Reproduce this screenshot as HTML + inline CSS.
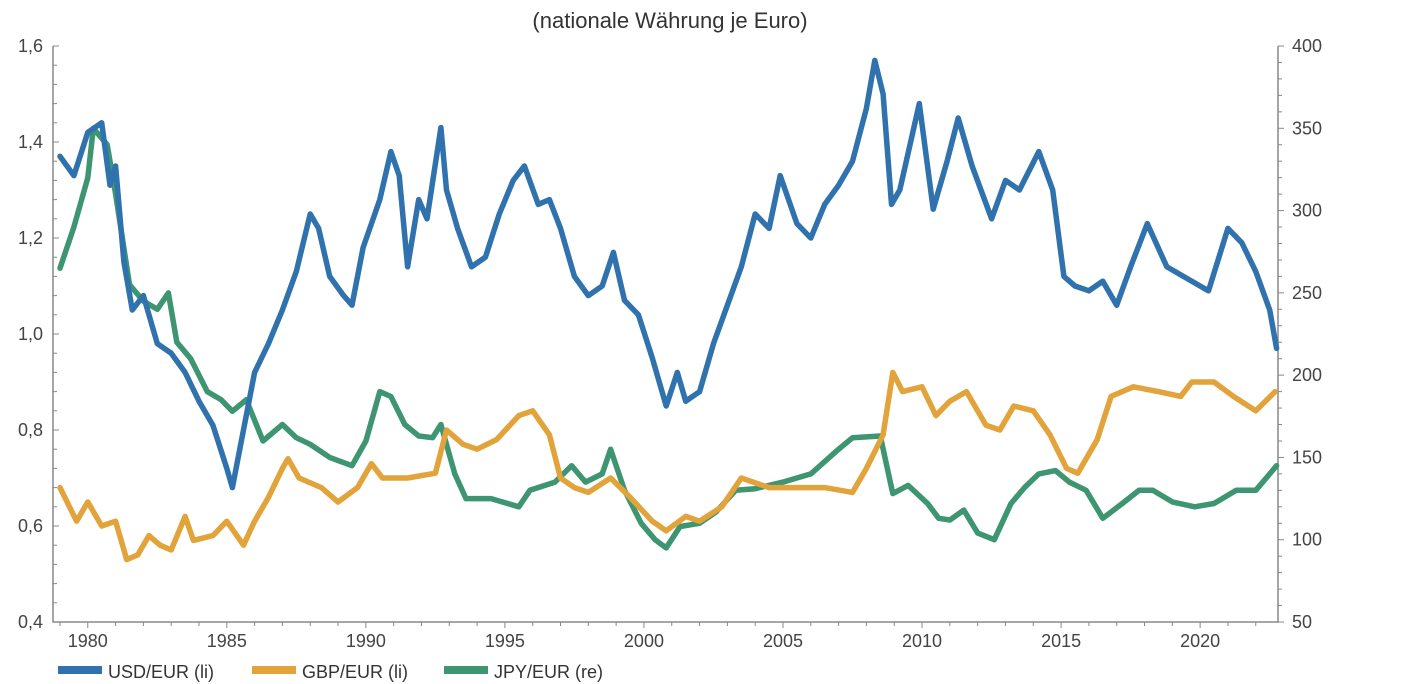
<!DOCTYPE html>
<html><head><meta charset="utf-8"><style>
body{margin:0;background:#fff;}
svg{display:block;font-family:"Liberation Sans",sans-serif;}
</style></head><body>
<svg id="chart" width="1416" height="684" viewBox="0 0 1416 684">
<text x="670" y="28" font-size="22" fill="#333" text-anchor="middle">(nationale Währung je Euro)</text>
<g id="axes"></g><g id="series"></g>
<g font-size="18" fill="#333">
<g><rect x="58" y="666" width="44" height="8" fill="#2f72ad"/><text x="108" y="678">USD/EUR (li)</text></g>
<g><rect x="252" y="666" width="44" height="8" fill="#e1a33a"/><text x="302" y="678">GBP/EUR (li)</text></g>
<g><rect x="444" y="666" width="44" height="8" fill="#3e9572"/><text x="494" y="678">JPY/EUR (re)</text></g>
</g>
</svg>
<script>
const usdYears=[1979,1979.5,1980,1980.5,1980.8,1981,1981.3,1981.6,1982,1982.5,1983,1983.5,1984,1984.5,1985,1985.2,1985.5,1986,1986.5,1987,1987.5,1988,1988.3,1988.7,1989.2,1989.5,1989.9,1990.5,1990.9,1991.2,1991.5,1991.9,1992.2,1992.7,1992.9,1993.3,1993.8,1994.3,1994.8,1995.3,1995.7,1996.2,1996.6,1997,1997.5,1998,1998.5,1998.9,1999.3,1999.8,2000.3,2000.8,2001.2,2001.5,2002,2002.5,2003,2003.5,2004,2004.5,2004.9,2005.5,2006,2006.5,2007,2007.5,2008,2008.3,2008.6,2008.9,2009.2,2009.9,2010.4,2010.9,2011.3,2011.8,2012.5,2013,2013.5,2014.2,2014.7,2015.1,2015.5,2016,2016.5,2017,2017.5,2018.1,2018.8,2019.4,2020,2020.3,2021,2021.5,2022,2022.5,2022.75];
const usdValues=[1.37,1.33,1.42,1.44,1.31,1.35,1.15,1.05,1.08,0.98,0.96,0.92,0.86,0.81,0.72,0.68,0.77,0.92,0.98,1.05,1.13,1.25,1.22,1.12,1.08,1.06,1.18,1.28,1.38,1.33,1.14,1.28,1.24,1.43,1.30,1.22,1.14,1.16,1.25,1.32,1.35,1.27,1.28,1.22,1.12,1.08,1.10,1.17,1.07,1.04,0.95,0.85,0.92,0.86,0.88,0.98,1.06,1.14,1.25,1.22,1.33,1.23,1.20,1.27,1.31,1.36,1.47,1.57,1.50,1.27,1.30,1.48,1.26,1.36,1.45,1.35,1.24,1.32,1.30,1.38,1.30,1.12,1.10,1.09,1.11,1.06,1.14,1.23,1.14,1.12,1.10,1.09,1.22,1.19,1.13,1.05,0.97];
const gbpYears=[1979,1979.6,1980,1980.5,1981,1981.4,1981.8,1982.2,1982.6,1983,1983.5,1983.8,1984.5,1985,1985.6,1986,1986.5,1987,1987.2,1987.6,1988.4,1989,1989.7,1990.2,1990.6,1991.5,1992.5,1992.9,1993.5,1994,1994.7,1995.5,1996,1996.6,1997,1997.5,1998,1998.8,1999.5,2000.3,2000.8,2001.5,2002,2002.8,2003.5,2004.5,2005.5,2006.5,2007.5,2008,2008.6,2008.95,2009.3,2010,2010.5,2011,2011.6,2012.3,2012.8,2013.3,2014,2014.6,2015.2,2015.6,2016.3,2016.8,2017.6,2018.5,2019.3,2019.7,2020.5,2021.2,2022,2022.7];
const gbpValues=[0.68,0.61,0.65,0.60,0.61,0.53,0.54,0.58,0.56,0.55,0.62,0.57,0.58,0.61,0.56,0.61,0.66,0.72,0.74,0.70,0.68,0.65,0.68,0.73,0.70,0.70,0.71,0.80,0.77,0.76,0.78,0.83,0.84,0.79,0.70,0.68,0.67,0.70,0.66,0.61,0.59,0.62,0.61,0.64,0.70,0.68,0.68,0.68,0.67,0.72,0.79,0.92,0.88,0.89,0.83,0.86,0.88,0.81,0.80,0.85,0.84,0.79,0.72,0.71,0.78,0.87,0.89,0.88,0.87,0.90,0.90,0.87,0.84,0.88];
const jpyYears=[1979,1979.5,1980,1980.2,1980.7,1981,1981.5,1982,1982.5,1982.9,1983.2,1983.7,1984.3,1984.8,1985.2,1985.7,1986.3,1987,1987.5,1988,1988.7,1989.5,1990,1990.5,1990.9,1991.4,1991.9,1992.4,1992.7,1993.2,1993.6,1994.5,1995.5,1995.9,1996.8,1997.4,1997.9,1998.5,1998.8,1999.3,1999.9,2000.4,2000.8,2001.3,2002,2002.6,2003.3,2004,2005,2006,2007,2007.5,2008.5,2008.95,2009.5,2010.2,2010.6,2011,2011.5,2012,2012.6,2013.2,2013.7,2014.2,2014.8,2015.3,2015.9,2016.5,2017.2,2017.8,2018.3,2019,2019.8,2020.5,2021.3,2022,2022.5,2022.75];
const jpyValues=[265,290,320,350,340,310,255,245,240,250,220,210,190,185,178,185,160,170,162,158,150,145,160,190,187,170,163,162,170,140,125,125,120,130,135,145,135,140,155,130,110,100,95,108,110,117,130,131,135,140,155,162,163,128,133,122,113,112,118,104,100,122,132,140,142,135,130,113,122,130,130,123,120,122,130,130,140,145];
const leftTicks=["0,4","0,6","0,8","1,0","1,2","1,4","1,6"];
const rightTicks=["50","100","150","200","250","300","350","400"];
const yearLabels=["1980","1985","1990","1995","2000","2005","2010","2015","2020"];

const X0=53,X1=1278,Y0=46,Y1=622,T0=1978.75,T1=2022.8;
function xs(t){return X0+(t-T0)/(T1-T0)*(X1-X0);}
function yl(v){return Y1-(v-0.4)/1.2*(Y1-Y0);}
function yr(v){return Y1-(v-50)/350*(Y1-Y0);}
const NS="http://www.w3.org/2000/svg";
function mk(tag,attrs,parent){const e=document.createElementNS(NS,tag);for(const k in attrs)e.setAttribute(k,attrs[k]);parent.appendChild(e);return e;}
const ax=document.getElementById('axes');
const axis=mk('path',{d:`M${X0},${Y0}V${Y1}H${X1}V${Y0}`,fill:'none',stroke:'#888','stroke-width':1.5},ax);


for(let i=0;i<=30;i++){const v=0.4+i*0.04;const y=yl(v);const major=i%5==0;mk('line',{x1:X0,x2:X0+(major?6:4),y1:y,y2:y,stroke:'#888'},ax);}
leftTicks.forEach(s=>{const v=parseFloat(s.replace(',','.'));const t=mk('text',{x:X0-10,y:yl(v)+6,'font-size':18,fill:'#444','text-anchor':'end'},ax);t.textContent=s;

});
for(let v=50;v<=400;v+=10){const y=yr(v);const major=v%50==0;mk('line',{x1:X1,x2:X1+(major?6:4),y1:y,y2:y,stroke:'#888'},ax);}
rightTicks.forEach(s=>{const v=+s;const t=mk('text',{x:X1+14,y:yr(v)+6,'font-size':18,fill:'#444'},ax);t.textContent=s;

});
for(let yv=1979;yv<=2022;yv++){const x=xs(yv);mk('line',{x1:x,x2:x,y1:Y1,y2:Y1+(yv%5==0?6:4),stroke:'#888'},ax);}
yearLabels.forEach(s=>{const t=mk('text',{x:xs(+s),y:Y1+25,'font-size':18,fill:'#444','text-anchor':'middle'},ax);t.textContent=s;

});
const sg=document.getElementById('series');
function line(years,vals,yf,color,name){const d=years.map((t,i)=>(i?'L':'M')+xs(t).toFixed(1)+','+yf(vals[i]).toFixed(1)).join('');
const p=mk('path',{d:d,fill:'none',stroke:color,'stroke-width':5.5,'stroke-linejoin':'round','stroke-linecap':'round'},sg);

}
line(jpyYears,jpyValues,yr,'#3e9572','jpy-eur-line');
line(gbpYears,gbpValues,yl,'#e1a33a','gbp-eur-line');
line(usdYears,usdValues,yl,'#2f72ad','usd-eur-line');
</script>
</body></html>
